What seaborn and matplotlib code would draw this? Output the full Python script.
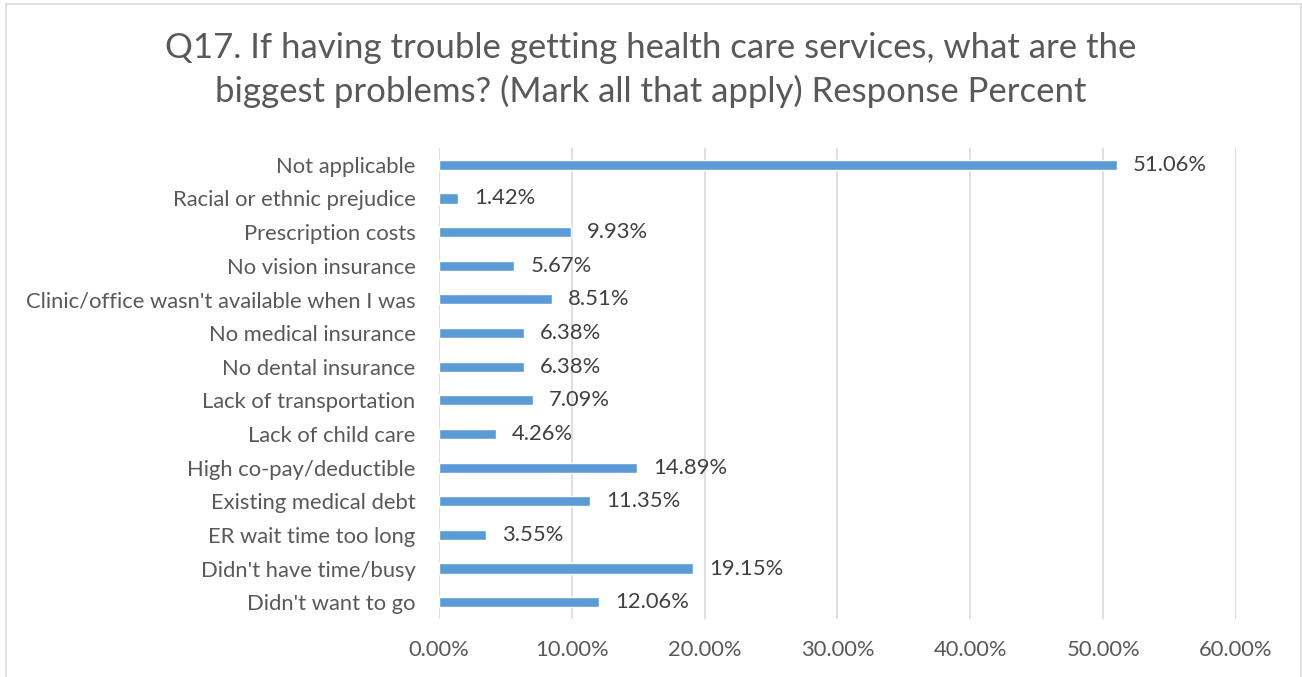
import matplotlib
matplotlib.use('Agg')
from matplotlib import pyplot as plt
from matplotlib import ticker
from matplotlib.patches import Rectangle
import pandas as pd
import seaborn as sns

sns.set_style('white')
plt.rcParams['font.family'] = ['Lato', 'DejaVu Sans']

categories = ['Not applicable', 'Racial or ethnic prejudice', 'Prescription costs',
              'No vision insurance', "Clinic/office wasn't available when I was",
              'No medical insurance', 'No dental insurance', 'Lack of transportation',
              'Lack of child care', 'High co-pay/deductible', 'Existing medical debt',
              'ER wait time too long', "Didn't have time/busy", "Didn't want to go"]
percent = [51.06, 1.42, 9.93, 5.67, 8.51, 6.38, 6.38, 7.09, 4.26, 14.89, 11.35, 3.55, 19.15, 12.06]
xticks = [0, 10, 20, 30, 40, 50, 60]

df = pd.DataFrame({'Problem': categories, 'Percent': percent})
text_col = '#595959'
fs = 15.8

fig = plt.figure(figsize=(13.02, 6.77), dpi=100)
ax = fig.add_axes([0.3372, 0.0857, 0.612, 0.6957])
fig.patches.append(Rectangle((0.0046, -0.1), 0.9946, 1.094, transform=fig.transFigure,
                             fill=False, edgecolor='#d9d9d9', linewidth=1.2))

sns.barplot(data=df, x='Percent', y='Problem', color='#5b9bd5', width=0.3,
            saturation=1, ax=ax, zorder=3)

for i, v in enumerate(percent):
    ax.annotate(f'{v:.2f}%', (v, i), xytext=(11.5, 0), textcoords='offset points',
                va='center', ha='left', fontsize=fs, color='#404040')

ax.set_xlim(0, 60)
ax.set_ylim(13.5, -0.5)
ax.set_xticks(xticks)
ax.xaxis.set_major_formatter(ticker.FuncFormatter(lambda x, p: f'{x:.2f}%'))
ax.grid(axis='x', color='#d9d9d9', linewidth=1.2, zorder=0)
ax.grid(axis='y', visible=False)
for s in ax.spines.values():
    s.set_visible(False)
ax.tick_params(axis='both', length=0, labelsize=fs, labelcolor=text_col)
ax.tick_params(axis='x', pad=15)
ax.tick_params(axis='y', pad=17)
ax.set_xlabel('')
ax.set_ylabel('')

fig.suptitle('Q17. If having trouble getting health care services, what are the\n'
             'biggest problems? (Mark all that apply) Response Percent',
             x=0.5, y=0.952, va='top', fontsize=25, color=text_col, linespacing=1.38)

fig.savefig('out.png', dpi=100)
